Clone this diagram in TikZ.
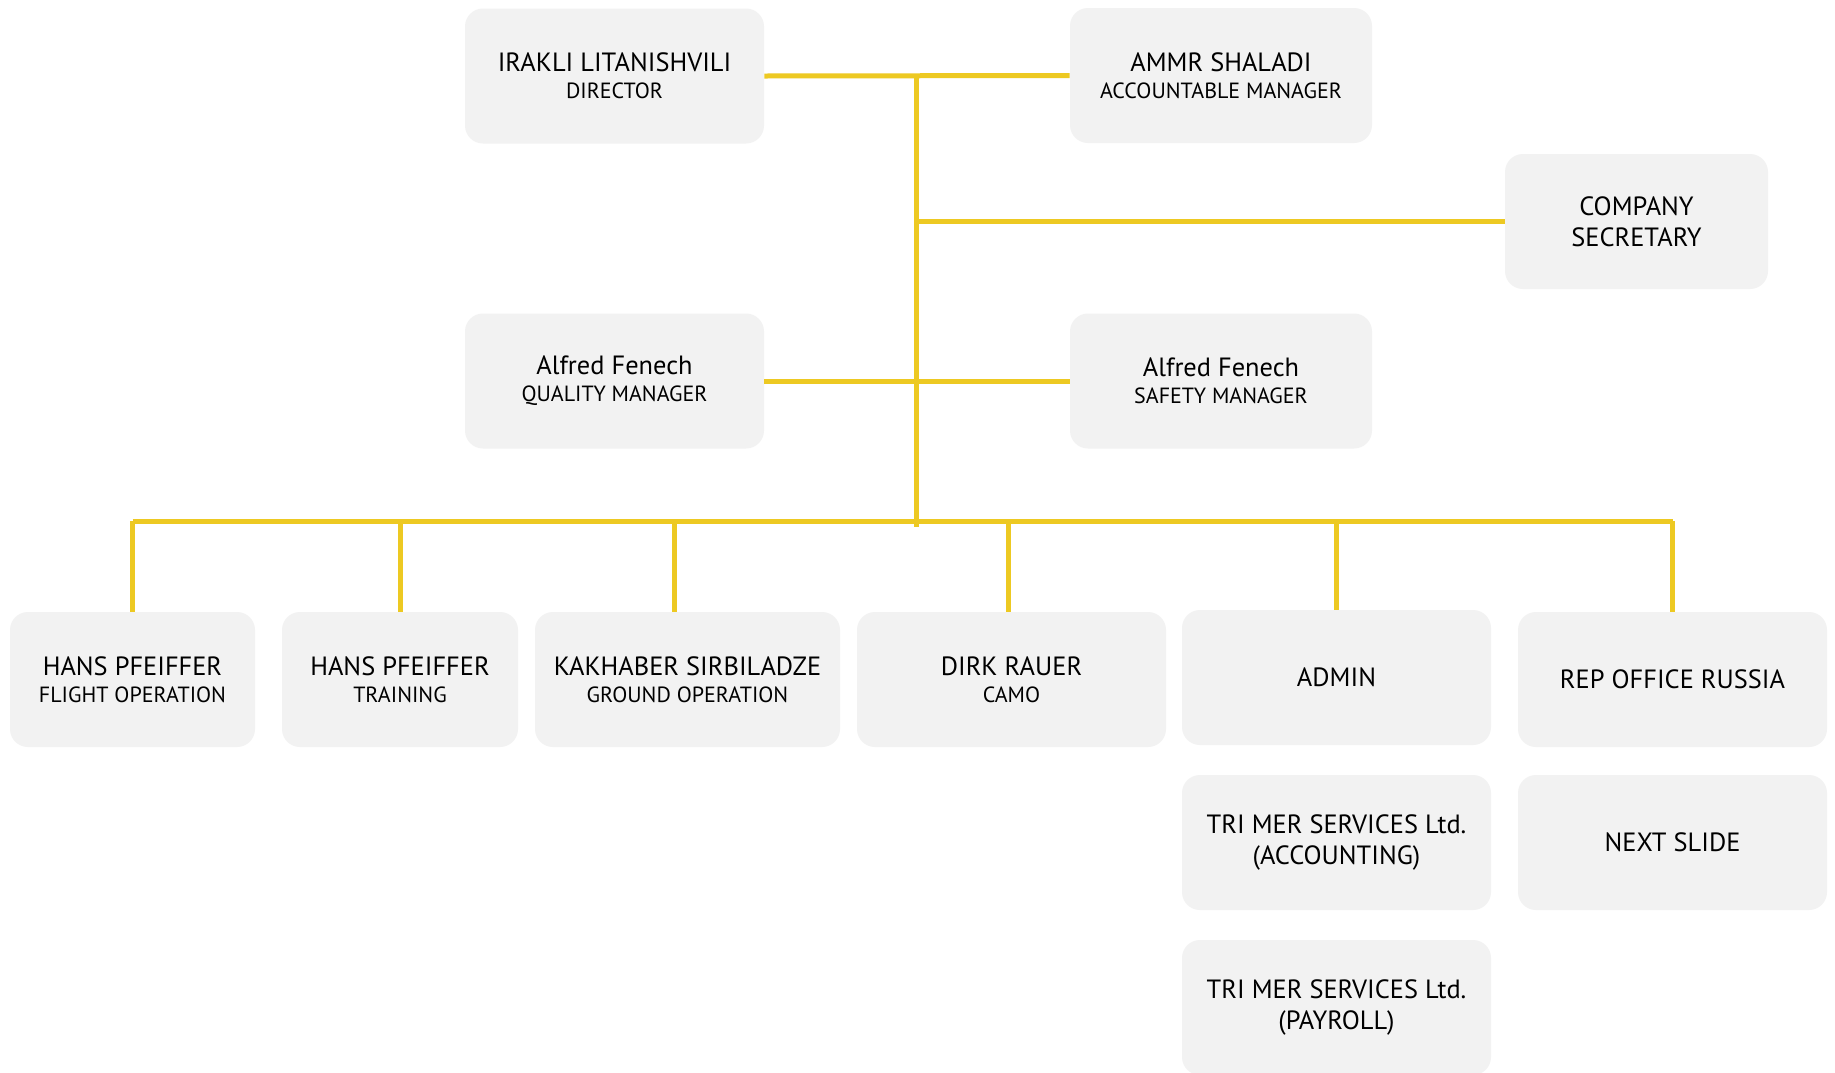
\documentclass[tikz,border=0pt]{standalone}
\usepackage{fontspec}
\setmainfont{PT Sans}
\definecolor{boxgrey}{HTML}{F2F2F2}
\definecolor{linkyellow}{HTML}{EDC922}
\tikzset{
  unit/.style={rectangle, rounded corners=9pt, fill=boxgrey, draw=none,
    minimum height=67.5pt, align=center, inner sep=2pt, font=\fontsize{13.2}{15.6}\selectfont},
  link/.style={draw=linkyellow, line width=2.5pt}
}
\newcommand{\rolename}[1]{\\[-2pt]{\fontsize{11}{13}\selectfont #1}}
\begin{document}
\begin{tikzpicture}[x=0.5pt,y=-0.5pt]
  \useasboundingbox[fill=white] (0,0) rectangle (1835,1072);
  % top level
  \node[unit, minimum width=149.5pt] (irakli) at (614.5,76) {IRAKLI LITANISHVILI\rolename{DIRECTOR}};
  \node[unit, minimum width=151pt] (ammr) at (1221,75.5) {AMMR SHALADI\rolename{ACCOUNTABLE MANAGER}};
  \node[unit, minimum width=131.5pt] (secretary) at (1636.5,221.5) {COMPANY\\SECRETARY};
  \node[unit, minimum width=149.5pt] (quality) at (614.5,381) {Alfred Fenech\rolename{QUALITY MANAGER}};
  \node[unit, minimum width=151pt] (safety) at (1221,381) {Alfred Fenech\rolename{SAFETY MANAGER}};
  % departments
  \node[unit, minimum width=122.5pt] (flight) at (132.5,679.5) {HANS PFEIFFER\rolename{FLIGHT OPERATION}};
  \node[unit, minimum width=118pt] (training) at (400,679.5) {HANS PFEIFFER\rolename{TRAINING}};
  \node[unit, minimum width=152.5pt] (ground) at (687.5,679.5) {KAKHABER SIRBILADZE\rolename{GROUND OPERATION}};
  \node[unit, minimum width=154.5pt] (camo) at (1011.5,679.5) {DIRK RAUER\rolename{CAMO}};
  \node[unit, minimum width=154.5pt] (admin) at (1336.5,677.5) {ADMIN};
  \node[unit, minimum width=154.5pt] (rep) at (1672.5,679.5) {REP OFFICE RUSSIA};
  \node[unit, minimum width=154.5pt] (accounting) at (1336.5,842.5) {TRI MER SERVICES Ltd.\\(ACCOUNTING)};
  \node[unit, minimum width=154.5pt] (nextslide) at (1672.5,842.5) {NEXT SLIDE};
  \node[unit, minimum width=154.5pt] (payroll) at (1336.5,1007.5) {TRI MER SERVICES Ltd.\\(PAYROLL)};
  % connectors
  \coordinate (top) at (916,75);
  \coordinate (trunkend) at (916,527);
  \coordinate (bus) at (916,521);
  \draw[link] (irakli.east) -- (ammr.west);
  \draw[link] (top) -- (trunkend);
  \draw[link] (top |- secretary.west) -- (secretary.west);
  \draw[link] (quality.east) -- (safety.west);
  \draw[link] (flight.north |- bus) -- (rep.north |- bus);
  \draw[link] (flight.north) -- (flight.north |- bus);
  \draw[link] (training.north) -- (training.north |- bus);
  \draw[link] ([xshift=-6.5pt]ground.north) -- ([xshift=-6.5pt]ground.north |- bus);
  \draw[link] ([xshift=-1.75pt]camo.north) -- ([xshift=-1.75pt]camo.north |- bus);
  \draw[link] (admin.north) -- (admin.north |- bus);
  \draw[link] (rep.north) -- (rep.north |- bus);
\end{tikzpicture}
\end{document}
